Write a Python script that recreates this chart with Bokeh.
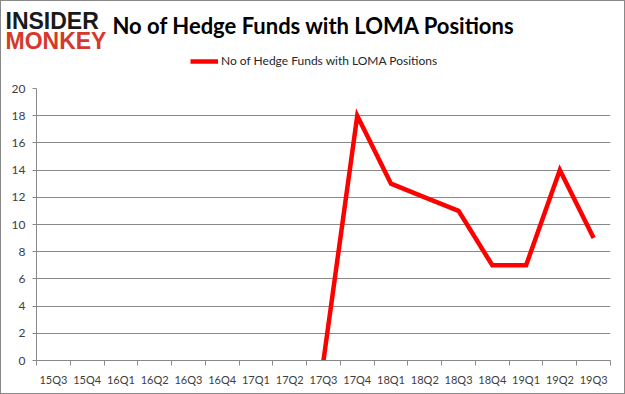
import math
from bokeh.plotting import figure
from bokeh.layouts import column
from bokeh.models import (ColumnDataSource, Range1d, FixedTicker, Label, Legend, LegendItem)
from bokeh.embed import file_html
from bokeh.resources import INLINE

# ---- data ----
quarters = ["15Q3", "15Q4", "16Q1", "16Q2", "16Q3", "16Q4", "17Q1", "17Q2", "17Q3",
            "17Q4", "18Q1", "18Q2", "18Q3", "18Q4", "19Q1", "19Q2", "19Q3"]
funds = [math.nan] * 8 + [0, 18, 13, 12, 11, 7, 7, 14, 9]
y_ticks = [0, 2, 4, 6, 8, 10, 12, 14, 16, 18, 20]
series_name = "No of Hedge Funds with LOMA Positions"
title_text = "No of Hedge Funds with LOMA Positions"

n = len(quarters)
xs = [i + 0.5 for i in range(n)]
src = ColumnDataSource(dict(x=xs, y=funds))

FONT = "Lato"
GRAY = "#898989"
TXT = "#404040"
RED = "#ff0000"
W = 625
H = 394
HH = 74

# ---- header (logo, title, legend) ----
h = figure(width=W, height=HH, output_backend="svg", toolbar_location=None,
           x_range=Range1d(0, W), y_range=Range1d(HH, 0),
           min_border=0, x_axis_type=None, y_axis_type=None)
h.outline_line_color = None
h.border_fill_alpha = 0
h.background_fill_alpha = 0
h.grid.visible = False
h.add_layout(Label(x=5, y=20, text="INSIDER",
                   text_font="Liberation Sans", text_font_style="bold", text_font_size="23px",
                   text_color="#1a1a1a", text_baseline="middle"))
h.add_layout(Label(x=5, y=40, text="MONKEY",
                   text_font="Liberation Sans", text_font_style="bold", text_font_size="23px",
                   text_color="#d4392b", text_baseline="middle"))
h.add_layout(Label(x=112, y=25, text=title_text,
                   text_font=FONT, text_font_style="bold", text_font_size="22px",
                   text_color="#000000", text_baseline="middle"))
key_src = ColumnDataSource(dict(x=[math.nan], y=[math.nan]))
key = h.line("x", "y", source=key_src, line_color=RED, line_width=4.5)
legend = Legend(items=[LegendItem(label=series_name, renderers=[key])],
                location=(190, 6), orientation="horizontal",
                glyph_width=28, glyph_height=14, label_height=14, label_standoff=3,
                padding=0, margin=0, spacing=0,
                border_line_color=None, background_fill_alpha=0,
                label_text_font=FONT, label_text_font_size="12px", label_text_color="#262626")
h.add_layout(legend, "center")

# ---- main chart ----
p = figure(width=W, height=H - HH, output_backend="svg", toolbar_location=None,
           x_range=Range1d(0, n), y_range=Range1d(0, 20),
           min_border_left=36, min_border_right=15, min_border_top=88 - HH, min_border_bottom=34)
p.outline_line_color = None
p.border_fill_alpha = 0
p.background_fill_alpha = 0

p.line("x", "y", source=src, line_color=RED, line_width=4.5, line_join="miter")

p.xaxis.ticker = FixedTicker(ticks=xs, minor_ticks=list(range(n + 1)))
p.xaxis.major_label_overrides = {x: q for x, q in zip(xs, quarters)}
p.xaxis.major_tick_out = 0
p.xaxis.major_tick_in = 0
p.xaxis.minor_tick_out = 5
p.xaxis.minor_tick_in = 0
p.xaxis.minor_tick_line_color = GRAY
p.xaxis.axis_line_color = GRAY
p.xaxis.major_label_standoff = 7
p.xaxis.major_label_text_font = FONT
p.xaxis.major_label_text_font_size = "11px"
p.xaxis.major_label_text_color = TXT

p.yaxis.ticker = FixedTicker(ticks=y_ticks)
p.yaxis.major_tick_out = 4
p.yaxis.major_tick_in = 0
p.yaxis.minor_tick_out = 0
p.yaxis.minor_tick_in = 0
p.yaxis.major_tick_line_color = GRAY
p.yaxis.axis_line_color = GRAY
p.yaxis.major_label_standoff = 7
p.yaxis.major_label_text_font = FONT
p.yaxis.major_label_text_font_size = "12px"
p.yaxis.major_label_text_color = TXT

p.xgrid.grid_line_color = None
p.ygrid.grid_line_color = GRAY

layout = column(column(h, spacing=0), column(p, spacing=0), spacing=0)
layout.styles = {"background-color": "white", "box-shadow": "inset 0 0 0 1px #898989"}
open("out.html", "w").write(file_html(layout, INLINE))
